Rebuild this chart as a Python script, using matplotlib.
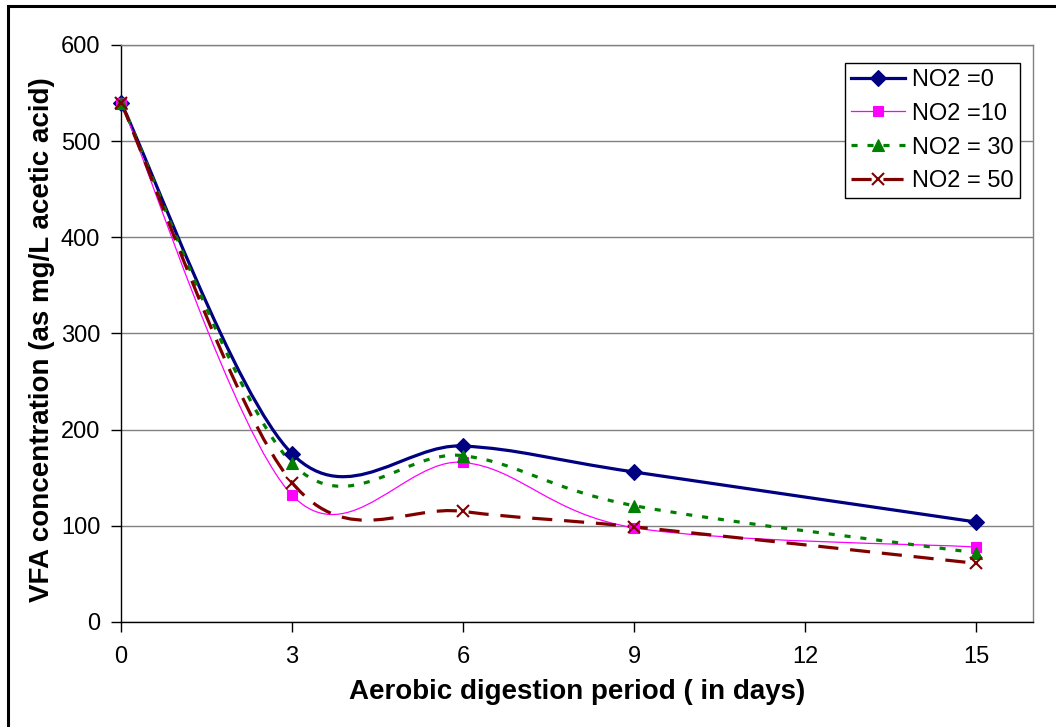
import matplotlib
matplotlib.use("Agg")
import matplotlib.pyplot as plt
from matplotlib.path import Path
from matplotlib.patches import PathPatch, Rectangle
from matplotlib.lines import Line2D

plt.rcParams['font.family'] = ['Liberation Sans', 'DejaVu Sans']

days = [0, 3, 6, 9, 15]
vfa_no2_0 = [540, 175, 183, 156, 104]
vfa_no2_10 = [540, 132, 166, 98, 78]
vfa_no2_30 = [540, 165, 173, 121, 72]
vfa_no2_50 = [540, 145, 115, 99, 61]
series_labels = ['NO2 =0', 'NO2 =10', 'NO2 = 30', 'NO2 = 50']
x_ticks = [0, 3, 6, 9, 12, 15]
y_ticks = [0, 100, 200, 300, 400, 500, 600]


def smooth_path(xs, ys):
    """Cubic Bezier path through the points (Catmull-Rom style smoothing)."""
    pts = list(zip(xs, ys))
    n = len(pts)
    verts = [pts[0]]
    codes = [Path.MOVETO]
    for i in range(n - 1):
        p0 = pts[i - 1] if i > 0 else pts[i]
        p1 = pts[i]
        p2 = pts[i + 1]
        p3 = pts[i + 2] if i + 2 < n else pts[i + 1]
        c1 = (p1[0] + (p2[0] - p0[0]) / 6.0, p1[1] + (p2[1] - p0[1]) / 6.0)
        c2 = (p2[0] - (p3[0] - p1[0]) / 6.0, p2[1] - (p3[1] - p1[1]) / 6.0)
        verts += [c1, c2, p2]
        codes += [Path.CURVE4] * 3
    return Path(verts, codes)


fig = plt.figure(figsize=(10.56, 7.27), dpi=100)
ax = fig.add_axes([121 / 1056, 1 - 622 / 727, (1033 - 121) / 1056, (622 - 45) / 727])

# outer chart border
fig.patches.append(Rectangle((8 / 1056, -0.01), 1.05, 1 - 6 / 727 + 0.01,
                             transform=fig.transFigure, fill=False,
                             edgecolor='black', linewidth=2.2, zorder=0))

styles = [
    dict(color='#000080', lw=2.3, ls='-', marker='D', ms=8.5),
    dict(color='#FF00FF', lw=0.9, ls='-', marker='s', ms=6.5),
    dict(color='#008000', lw=2.3, ls=(0, (1.9, 3.1)), marker='^', ms=8.5),
    dict(color='#800000', lw=2.3, ls=(0, (6.3, 3.7)), marker='x', ms=8.5),
]
all_series = [vfa_no2_0, vfa_no2_10, vfa_no2_30, vfa_no2_50]

handles = []
for vals, st, lab in zip(all_series, styles, series_labels):
    mew = 1.5 if st['marker'] == 'x' else 0.8
    patch = PathPatch(smooth_path(days, vals), fill=False, edgecolor=st['color'],
                      linewidth=st['lw'], linestyle=st['ls'], zorder=3,
                      capstyle='butt')
    ax.add_patch(patch)
    ax.plot(days, vals, linestyle='none', marker=st['marker'], markersize=st['ms'],
            markerfacecolor=st['color'], markeredgecolor=st['color'],
            markeredgewidth=mew, zorder=4, clip_on=False)
    handles.append(Line2D([], [], color=st['color'], lw=st['lw'], ls=st['ls'],
                          marker=st['marker'], markersize=st['ms'],
                          markerfacecolor=st['color'], markeredgecolor=st['color'],
                          markeredgewidth=mew, label=lab))

ax.set_xlim(0, 16)
ax.set_ylim(0, 600)
ax.set_xticks(x_ticks)
ax.set_yticks(y_ticks)
ax.yaxis.grid(True, color='#808080', linewidth=1.0)
ax.set_axisbelow(True)
ax.tick_params(axis='both', direction='out', length=7, width=1, labelsize=17,
               colors='black')
ax.tick_params(axis='x', pad=10)
ax.tick_params(axis='y', pad=8)

for side in ['top', 'right']:
    ax.spines[side].set_color('#808080')
    ax.spines[side].set_linewidth(1.0)
for side in ['left', 'bottom']:
    ax.spines[side].set_color('black')
    ax.spines[side].set_linewidth(1.0)

ax.set_xlabel('Aerobic digestion period ( in days)', fontsize=20, fontweight='bold',
              labelpad=8)
ax.set_ylabel('VFA concentration (as mg/L acetic acid)', fontsize=20,
              fontweight='bold', labelpad=4)
ax.yaxis.label.set_y(0.489)

leg = ax.legend(handles=handles, loc='upper right',
                bbox_to_anchor=(1020 / 1056, 1 - 63 / 727),
                bbox_transform=fig.transFigure, fontsize=17, frameon=True,
                fancybox=False, edgecolor='black', framealpha=1, handlelength=2.3,
                borderpad=0.25, labelspacing=0.5, handletextpad=0.3,
                borderaxespad=0)
leg.get_frame().set_linewidth(1.0)

fig.savefig('out.png', dpi=100)
